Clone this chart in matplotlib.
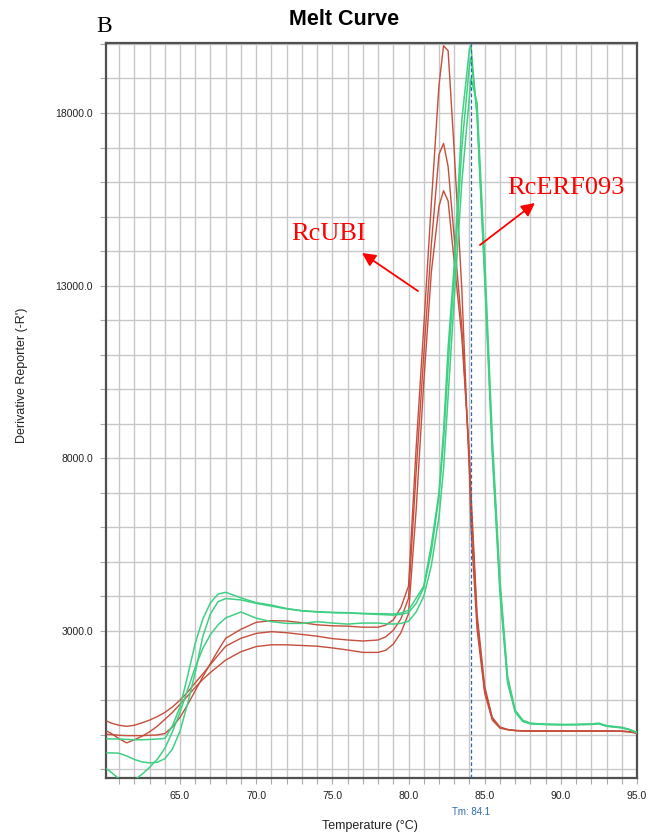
import matplotlib
matplotlib.use("Agg")
import matplotlib.pyplot as plt
from matplotlib.ticker import FixedLocator

# ---------------- data ----------------
temps = [60.2, 60.5, 61, 61.5, 62, 62.5, 63, 63.5, 64, 64.5, 65, 65.5, 66, 66.5, 67, 67.5, 68,
         69, 70, 71, 72, 73, 74, 75, 76, 77, 78,
         78.5, 79, 79.5, 80, 80.5, 81, 81.5, 82,
         82.3, 82.6, 83, 83.5, 84, 84.1, 84.5, 85, 85.5, 86,
         86.5, 87, 87.5, 88, 89, 90, 91, 92, 92.5, 93,
         94, 94.5, 95]

# RcUBI replicates (red)
ubi_1 = [10, 0, -20, -30, -30, -30, -20, -10, 30, 220, 500, 870, 1270, 1680, 2060, 2440, 2790,
         3050, 3250, 3300, 3290, 3240, 3180, 3150, 3140, 3110, 3110,
         3170, 3320, 3680, 4300, 8300, 11800, 15400, 18800,
         19950, 19800, 16900, 12900, 7500, 6000, 3050, 1200, 420, 190,
         140, 115, 105, 100, 100, 100, 100, 100, 100, 100,
         95, 80, 40]
ubi_2 = [390, 330, 270, 240, 270, 340, 420, 520, 640, 800, 1000, 1230, 1500, 1760, 2030, 2300, 2560,
         2790, 2930, 2980, 2950, 2900, 2850, 2780, 2740, 2710, 2740,
         2830, 3020, 3350, 3950, 7600, 11000, 14200, 16800,
         17120, 16450, 14400, 11800, 7900, 6700, 3300, 1300, 460, 200,
         145, 120, 110, 105, 105, 105, 105, 105, 105, 105,
         100, 85, 45]
ubi_3 = [100, 30, -120, -240, -150, -50, 80, 240, 440, 640, 880, 1120, 1370, 1600, 1800, 1980, 2160,
         2400, 2550, 2600, 2600, 2580, 2560, 2510, 2450, 2380, 2380,
         2440, 2620, 2950, 3500, 6500, 10200, 13400, 15300,
         15750, 15450, 13700, 11500, 8100, 7000, 3500, 1400, 500, 220,
         150, 120, 110, 105, 100, 100, 100, 100, 100, 100,
         95, 80, 40]

# RcERF093 replicates (green)
erf_1 = [-120, -125, -130, -140, -150, -150, -140, -130, -110, 250, 800, 1700, 2650, 3350, 3820, 4070, 4120,
         3960, 3820, 3750, 3650, 3590, 3560, 3540, 3530, 3510, 3500,
         3500, 3490, 3520, 3600, 3950, 4300, 5500, 7000,
         8800, 11200, 13600, 17800, 19850, 19950, 17900, 13200, 8100, 4100,
         1500, 650, 380, 310, 290, 285, 285, 295, 310, 240,
         195, 140, 55]
erf_2 = [-530, -530, -540, -620, -720, -790, -820, -800, -700, -420, 100, 900, 1800, 2850, 3500, 3850, 3940,
         3900, 3800, 3720, 3640, 3580, 3550, 3530, 3520, 3500, 3480,
         3470, 3460, 3480, 3530, 3800, 4250, 5300, 6900,
         8500, 10700, 13300, 17000, 19400, 19600, 18000, 13400, 8300, 4300,
         1600, 700, 400, 320, 300, 290, 290, 300, 320, 250,
         200, 145, 60]
erf_3 = [-1000, -1100, -1280, -1400, -1320, -1150, -950, -720, -400, 80, 650, 1300, 1950, 2500, 2900, 3180, 3380,
         3550, 3370, 3270, 3220, 3220, 3270, 3230, 3200, 3230, 3230,
         3210, 3200, 3220, 3280, 3550, 4000, 4900, 6300,
         7700, 9800, 12600, 16000, 18500, 19000, 18300, 13800, 8600, 4500,
         1700, 700, 420, 330, 300, 290, 295, 310, 330, 260,
         210, 150, 60]

tm_value = 84.1
x_ticks_labeled = [65, 70, 75, 80, 85, 90, 95]
y_ticks_labeled = [3000, 8000, 13000, 18000]

# ---------------- figure ----------------
W, H = 663, 838
fig = plt.figure(figsize=(W / 100, H / 100), dpi=100)
fig.patch.set_facecolor("white")
L, R, T, B = 106, 637, 42.7, 778
ax = fig.add_axes([L / W, 1 - B / H, (R - L) / W, (B - T) / H])

red = "#c54e3c"
green = "#3fd083"
for ys in (ubi_1, ubi_2, ubi_3):
    ax.plot(temps, ys, color=red, lw=1.0, zorder=3)
for ys in (erf_1, erf_2, erf_3):
    ax.plot(temps, ys, color=green, lw=1.1, zorder=3)

ax.set_xlim(60.14, 95)
ax.set_ylim(-1257, 20036)

xt = list(range(61, 96))
yt = list(range(-1000, 20001, 1000))
ax.xaxis.set_major_locator(FixedLocator(xt))
ax.yaxis.set_major_locator(FixedLocator(yt))
ax.set_xticklabels([f"{v:.1f}" if v in x_ticks_labeled else "" for v in xt])
ax.set_yticklabels([f"{v:.1f}" if v in y_ticks_labeled else "" for v in yt])
ax.grid(True, color="#c8c8c8", lw=1.0, zorder=0)
ax.tick_params(axis="both", length=4, width=0.8, color="#aaaaaa", pad=5.4,
               labelsize=7.5, labelcolor="#222222")
for lab in ax.get_xticklabels() + ax.get_yticklabels():
    lab.set_family("Liberation Sans")
for s in ax.spines.values():
    s.set_color("#505050")
    s.set_linewidth(1.6)

# Tm marker
ax.axvline(tm_value, color="#2f6aa8", lw=0.9, ls=(0, (3, 2)), zorder=4)
ax.text(tm_value, -0.046, f"Tm: {tm_value}", transform=ax.get_xaxis_transform(),
        ha="center", va="center", fontsize=7, color="#2f6aa8", family="Liberation Sans")

# annotations
ax.annotate("", xy=(76.95, 13946), xytext=(80.62, 12845),
            arrowprops=dict(arrowstyle="-|>", color="#ff0000", lw=1.3, mutation_scale=20,
                            shrinkA=0, shrinkB=0), zorder=5)
ax.annotate("", xy=(88.30, 15394), xytext=(84.69, 14177),
            arrowprops=dict(arrowstyle="-|>", color="#ff0000", lw=1.3, mutation_scale=20,
                            shrinkA=0, shrinkB=0), zorder=5)
ax.text(74.78, 14322, "RcUBI", color="#ff0000", fontsize=19, family="Liberation Serif",
        ha="center", va="baseline", zorder=5)
ax.text(90.34, 15654, "RcERF093", color="#ff0000", fontsize=19, family="Liberation Serif",
        ha="center", va="baseline", zorder=5)

# titles / labels
fig.text(344 / W, 1 - 25 / H, "Melt Curve", fontsize=15.5, fontweight="bold",
         family="Liberation Sans", ha="center", va="baseline")
fig.text(96 / W, 1 - 32.5 / H, "B", fontsize=17, family="Liberation Serif",
         ha="left", va="baseline")
fig.text(370 / W, 1 - 826 / H, "Temperature (°C)", fontsize=9, family="Liberation Sans",
         ha="center", va="center", color="#222222")
fig.text(22 / W, 1 - 375 / H, "Derivative Reporter (-R')", fontsize=9, family="Liberation Sans",
         ha="center", va="center", rotation=90, color="#222222")

fig.savefig("out.png", dpi=100, facecolor="white")
